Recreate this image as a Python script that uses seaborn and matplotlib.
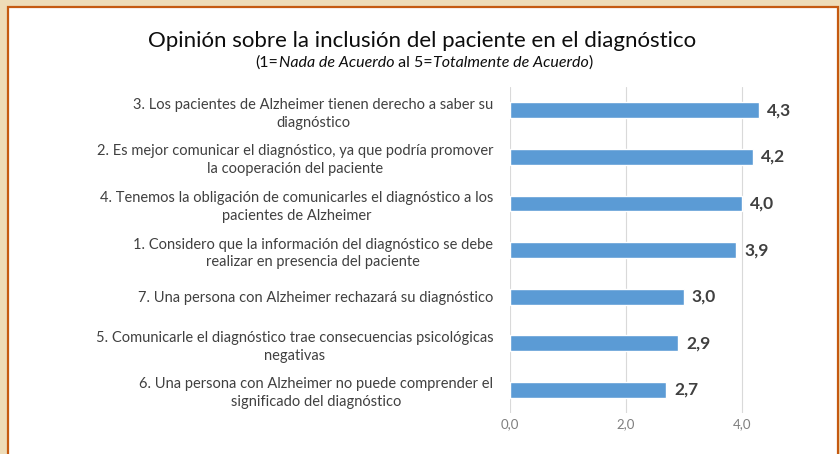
import numpy as np
import pandas as pd
import matplotlib.pyplot as plt
import seaborn as sns
from matplotlib.patches import Rectangle

# datos
etiquetas = [
    "3. Los pacientes de Alzheimer tienen derecho a saber su\ndiagnóstico",
    "2. Es mejor comunicar el diagnóstico, ya que podría promover\nla cooperación del paciente",
    "4. Tenemos la obligación de comunicarles el diagnóstico a los\npacientes de Alzheimer",
    "1. Considero que la información del diagnóstico se debe\nrealizar en presencia del paciente",
    "7. Una persona con Alzheimer rechazará su diagnóstico",
    "5. Comunicarle el diagnóstico trae consecuencias psicológicas\nnegativas",
    "6. Una persona con Alzheimer no puede comprender el\nsignificado del diagnóstico",
]
valores = [4.3, 4.2, 4.0, 3.9, 3.0, 2.9, 2.7]
ticks_x = [0, 2, 4]
titulo = "Opinión sobre la inclusión del paciente en el diagnóstico"
subtitulo = [("(1=", "normal"), ("Nada de Acuerdo", "italic"), (" al 5=", "normal"),
             ("Totalmente de Acuerdo", "italic"), (")", "normal")]

df = pd.DataFrame({"pregunta": etiquetas, "valor": valores})

sns.set_style("white")
plt.rcParams['font.family'] = ['Lato', 'DejaVu Sans']

fig = plt.figure(figsize=(8.4, 4.54), dpi=100, facecolor="#EEDCB8")
# marco blanco con borde naranja
fig.patches.append(Rectangle((0.0095, -0.02), 0.988, 1.005, transform=fig.transFigure,
                             facecolor="white", edgecolor="#C55A11", linewidth=1.6, zorder=-5))

ax = fig.add_axes([0.607, 0.0903, 0.345, 0.718])
ax.set_facecolor("none")
sns.barplot(data=df, x="valor", y="pregunta", orient="h", color="#5B9BD5",
            width=0.34, saturation=1, ax=ax, zorder=3)

ax.set_xlim(0, 5)
ax.set_xticks(ticks_x)
ax.set_xticklabels([f"{t:.1f}".replace(".", ",") for t in ticks_x], color="#7F7F7F", fontsize=9.5)
ax.grid(axis="x", color="#D9D9D9", linewidth=0.8, zorder=0)
ax.set_xlabel("")
ax.set_ylabel("")
for s in ax.spines.values():
    s.set_visible(False)
ax.tick_params(axis="both", length=0)
ax.tick_params(axis="y", pad=12)
for t in ax.get_yticklabels():
    t.set_multialignment("center")
    t.set_fontsize(10.5)
    t.set_linespacing(1.35)
    t.set_color("#404040")

for i, v in enumerate(valores):
    ax.text(v + 0.14, i, f"{v:.1f}".replace(".", ","), va="center", ha="left",
            fontsize=12.5, fontweight="bold", color="#404040")

fig.text(0.503, 0.909, titulo, ha="center", va="center", fontsize=16, color="#0D0D0D")

# subtítulo con partes en cursiva
renderer = fig.canvas.get_renderer()
piezas = []
for txt, estilo in subtitulo:
    p = fig.text(0, 0.862, txt, ha="left", va="center", fontsize=11.5, style=estilo, color="#0D0D0D")
    piezas.append(p)
anchos = [p.get_window_extent(renderer).width / fig.bbox.width for p in piezas]
x = 0.505 - sum(anchos) / 2
for p, w in zip(piezas, anchos):
    p.set_x(x)
    x += w

fig.savefig("out.png", dpi=100, facecolor=fig.get_facecolor())
